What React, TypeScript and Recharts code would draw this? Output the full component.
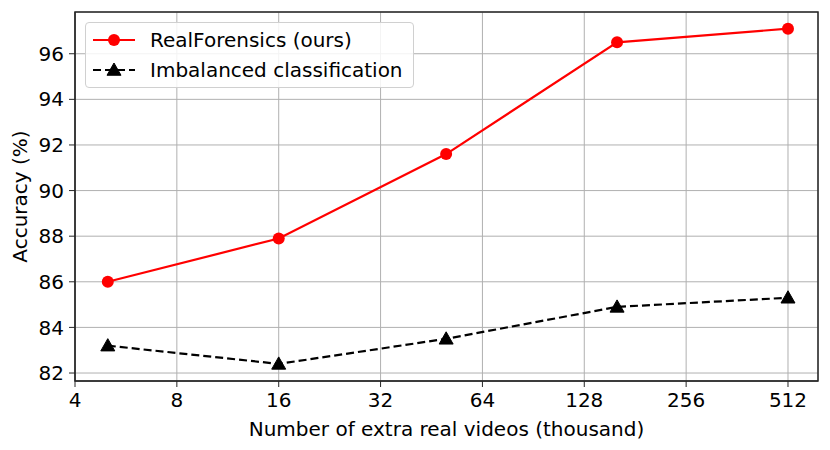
import { CartesianGrid, Line, LineChart, ReferenceArea, XAxis, YAxis } from "recharts";

const videos = [5, 16, 50, 160, 512];
const realForensics = [86.0, 87.9, 91.6, 96.5, 97.1];
const imbalanced = [83.2, 82.4, 83.5, 84.9, 85.3];
const xTicks = [4, 8, 16, 32, 64, 128, 256, 512];
const yTicks = [82, 84, 86, 88, 90, 92, 94, 96];

const data = videos.map((v, i) => ({ x: v, real: realForensics[i], imb: imbalanced[i] }));

const X_DOMAIN: [number, number] = [4, 628];
const Y_DOMAIN: [number, number] = [81.65, 97.83];
const FONT = "DejaVu Sans, sans-serif";
const FS = 20;
const AXIS = "#262626";

function Triangle(props: any) {
  const { cx, cy } = props;
  if (cx == null || cy == null) return null;
  const s = 7;
  return (
    <polygon
      points={`${cx},${cy - s} ${cx - s},${cy + s * 0.75} ${cx + s},${cy + s * 0.75}`}
      fill="black"
      stroke="black"
      strokeWidth={1}
    />
  );
}

function LegendBox() {
  return (
    <div
      style={{
        position: "absolute",
        left: 85,
        top: 22,
        border: "1px solid #d0d0d0",
        borderRadius: 4,
        background: "rgba(255,255,255,0.85)",
        padding: "2px 10px 2px 6px",
        fontFamily: FONT,
        fontSize: FS,
        color: "black",
        lineHeight: "30px",
      }}
    >
      <div style={{ display: "flex", alignItems: "center" }}>
        <svg width={44} height={14} style={{ marginRight: 14 }}>
          <line x1={1} y1={7} x2={43} y2={7} stroke="red" strokeWidth={2.2} />
          <circle cx={22} cy={7} r={6} fill="red" />
        </svg>
        RealForensics (ours)
      </div>
      <div style={{ display: "flex", alignItems: "center" }}>
        <svg width={44} height={14} style={{ marginRight: 14 }}>
          <line x1={1} y1={7} x2={43} y2={7} stroke="black" strokeWidth={2.2} strokeDasharray="8 4" />
          <Triangle cx={22} cy={7} />
        </svg>
        Imbalanced classification
      </div>
    </div>
  );
}

export default function App() {
  return (
    <div style={{ position: "absolute", left: 0, top: 0, width: 830, height: 450, background: "white" }}>
      <LineChart width={830} height={450} data={data} margin={{ top: 12, right: 12, bottom: 0, left: 0 }}>
        <CartesianGrid stroke="#b0b0b0" strokeWidth={1} />
        <XAxis
          dataKey="x"
          type="number"
          scale="log"
          domain={X_DOMAIN}
          ticks={xTicks}
          allowDataOverflow
          height={69}
          tickSize={6}
          tickMargin={6}
          stroke={AXIS}
          tick={{ fill: "black", fontSize: FS, fontFamily: FONT }}
          label={{
            value: "Number of extra real videos (thousand)",
            position: "insideBottom",
            offset: 14,
            fill: "black",
            fontSize: FS,
            fontFamily: FONT,
          }}
        />
        <YAxis
          type="number"
          domain={Y_DOMAIN}
          ticks={yTicks}
          allowDataOverflow
          width={75}
          tickSize={6}
          tickMargin={5}
          stroke={AXIS}
          tick={{ fill: "black", fontSize: FS, fontFamily: FONT }}
          label={{
            content: (p: any) => {
              const vb = p.viewBox;
              const cx = vb.x + 20;
              const cy = vb.y + vb.height / 2;
              return (
                <text
                  x={cx}
                  y={cy}
                  transform={`rotate(-90 ${cx} ${cy})`}
                  textAnchor="middle"
                  dominantBaseline="central"
                  fill="black"
                  fontSize={FS}
                  fontFamily={FONT}
                >
                  Accuracy (%)
                </text>
              );
            },
          }}
        />
        <ReferenceArea
          x1={X_DOMAIN[0]}
          x2={X_DOMAIN[1]}
          y1={Y_DOMAIN[0]}
          y2={Y_DOMAIN[1]}
          fill="none"
          stroke={AXIS}
          strokeWidth={1.5}
          ifOverflow="visible"
        />
        <Line
          dataKey="real"
          stroke="red"
          strokeWidth={2.2}
          dot={{ r: 6, fill: "red", stroke: "red", strokeWidth: 0 }}
          activeDot={false}
          isAnimationActive={false}
        />
        <Line
          dataKey="imb"
          stroke="black"
          strokeWidth={2.2}
          strokeDasharray="8 4"
          dot={<Triangle />}
          activeDot={false}
          isAnimationActive={false}
        />
      </LineChart>
      <LegendBox />
    </div>
  );
}
